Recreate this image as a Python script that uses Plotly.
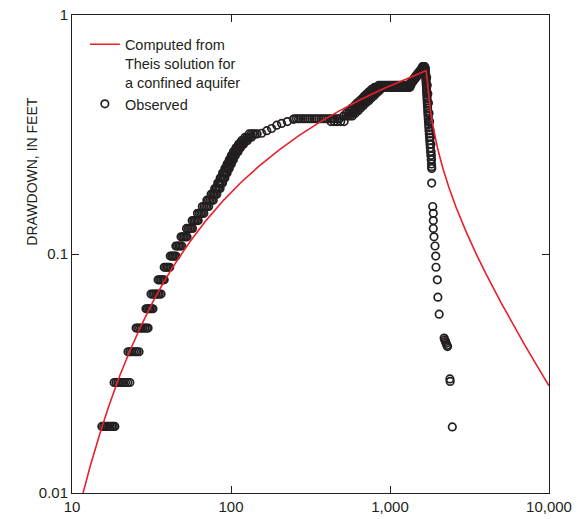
import plotly.graph_objects as go

# ---------------- data ----------------
# Computed (Theis solution) curve
theis_t = [11, 12, 13, 15, 17, 20, 23, 27, 32, 38, 45, 55, 70, 90, 115, 150, 200, 270,
           360, 480, 650, 900, 1200, 1450, 1683, 1690, 1700, 1715, 1735, 1760, 1800,
           1850, 1920, 2000, 2150, 2350, 2600, 3000, 3500, 4000, 5000, 6000, 7000, 8500, 10000]
theis_s = [0.0085, 0.0106, 0.0129, 0.0178, 0.0230, 0.0310, 0.0390, 0.0496, 0.0624, 0.0769,
           0.0922, 0.1123, 0.1386, 0.1681, 0.1986, 0.2332, 0.2722, 0.3141, 0.3553, 0.3971,
           0.4417, 0.4902, 0.5333, 0.5618, 0.5843, 0.5830, 0.5629, 0.5247, 0.4825, 0.4415,
           0.3937, 0.3511, 0.3085, 0.2735, 0.2283, 0.1892, 0.1572, 0.1246, 0.0994, 0.0829,
           0.0625, 0.0501, 0.0419, 0.0336, 0.0281]

# Observed drawdown (time, drawdown)
obs_t = [
    15.4, 15.8, 16.2, 16.6, 17.0, 17.4, 17.8, 18.2, 18.6,
    18.4, 18.9, 19.4, 19.9, 20.5, 21.1, 21.7, 22.4, 23.1,
    22.5, 23.1, 23.7, 24.4, 25.1, 25.7, 26.4,
    25.3, 25.9, 26.6, 27.3, 28.0, 28.7, 29.4, 30.1,
    29.2, 29.8, 30.4, 31.0, 31.6, 32.3,
    31.4, 32.2, 33.0, 33.8, 34.6, 35.4, 36.3,
    34.8, 35.6, 36.4, 37.2, 38.0,
    38.0, 38.8, 39.6, 40.4, 41.2,
    41.5, 42.4, 43.3, 44.2, 45.1,
    45.0, 46.0, 47.0, 48.0, 49.0,
    48.5, 49.6, 50.7, 51.8, 52.9,
    52.5, 53.7, 54.9, 56.1, 57.3,
    57.0, 58.3, 59.6, 60.9, 62.2,
    61.5, 63.0, 64.5, 66.0, 67.5,
    66.0, 67.6, 69.2, 70.8, 72.4,
    70.5, 72.2, 73.9, 75.6, 77.3,
    75.0, 76.6, 78.2, 79.8, 81.4,
    79.0, 80.6, 82.2, 83.8, 85.4,
    82.5, 84.0, 85.5, 87.0, 88.5,
    85.5, 87.0, 88.5, 90.0, 91.5,
    88.5, 90.0, 91.5, 93.0, 94.5,
    91.5, 93.0, 94.5, 96.0, 97.5,
    94.5, 96.0, 97.5, 99.0, 100.5,
    97.5, 99.0, 100.5, 102.0, 103.5,
    100.5, 102.0, 103.5, 105.0, 106.5,
    103.5, 105.3, 107.1, 108.9, 110.7,
    107.5, 109.3, 111.1, 112.9, 114.7,
    111.5, 113.6, 115.7, 117.8, 119.9,
    116.5, 119.0, 121.5, 124.0, 126.5,
    122.5, 125.5, 128.5, 131.5, 134.5,
    130.0, 134.0, 138.0, 142.0, 146.0,
    156, 168, 180, 194, 208, 226, 247,
    250, 258, 266, 275, 284, 293, 303, 313, 323, 334, 345, 357, 369, 381, 394, 407, 421, 435, 450, 465, 480,
    425, 445, 465, 490, 515,
    510, 528, 546, 563, 580,
    530, 550, 569, 587, 605,
    555, 575, 594, 612, 630,
    575, 596, 617, 636, 655,
    600, 620, 641, 660, 680,
    620, 643, 666, 685, 705,
    645, 668, 691, 713, 735,
    670, 693, 716, 738, 760,
    690, 715, 741, 765, 790,
    715, 741, 768, 791, 815,
    740, 767, 794, 819, 845,
    765, 793, 821, 845, 870,
    800, 815, 830, 845, 860, 875, 890, 907, 925, 942, 960, 980, 1000, 1020, 1040, 1060,
    1080, 1100, 1120, 1140, 1160, 1180, 1200, 1222, 1245, 1267, 1290, 1312, 1335,
    850, 875, 900, 925, 950, 975, 1000, 1025, 1050, 1075, 1100, 1125, 1150, 1175, 1200,
    1225, 1250, 1275, 1300, 1325, 1350,
    1340, 1355, 1370, 1370, 1385, 1400, 1400, 1415, 1430, 1430, 1445, 1460, 1460, 1478,
    1495, 1490, 1508, 1525,
    1520, 1540, 1560, 1555, 1578, 1600, 1620, 1640, 1590, 1608, 1625, 1642, 1660, 1600,
    1615, 1630, 1642, 1655,
    1665, 1670, 1672, 1675, 1678, 1680, 1683, 1686, 1689, 1692, 1695, 1698, 1701, 1704,
    1707, 1710, 1713, 1716, 1720, 1724, 1728, 1732, 1736, 1740, 1745, 1750, 1755, 1760,
    1766, 1772, 1778, 1785, 1792, 1800, 1808, 1816, 1824, 1830,
    1700, 1715, 1730, 1745, 1760, 1775, 1790, 1800, 1810, 1815, 1820, 1825,
    1829, 1829, 1856, 1872, 1872, 1872, 1891, 1919, 1939, 1947, 1984, 2000, 2038,
    2190, 2210, 2235, 2255, 2280, 2300,
    2380, 2390, 2465,
]
obs_s = [
    0.019, 0.019, 0.019, 0.019, 0.019, 0.019, 0.019, 0.019, 0.019,
    0.029, 0.029, 0.029, 0.029, 0.029, 0.029, 0.029, 0.029, 0.029,
    0.039, 0.039, 0.039, 0.039, 0.039, 0.039, 0.039,
    0.049, 0.049, 0.049, 0.049, 0.049, 0.049, 0.049, 0.049,
    0.059, 0.059, 0.059, 0.059, 0.059, 0.059,
    0.068, 0.068, 0.068, 0.068, 0.068, 0.068, 0.068,
    0.078, 0.078, 0.078, 0.078, 0.078,
    0.088, 0.088, 0.088, 0.088, 0.088,
    0.098, 0.098, 0.098, 0.098, 0.098,
    0.108, 0.108, 0.108, 0.108, 0.108,
    0.118, 0.118, 0.118, 0.118, 0.118,
    0.128, 0.128, 0.128, 0.128, 0.128,
    0.138, 0.138, 0.138, 0.138, 0.138,
    0.148, 0.148, 0.148, 0.148, 0.148,
    0.158, 0.158, 0.158, 0.158, 0.158,
    0.168, 0.168, 0.168, 0.168, 0.168,
    0.178, 0.178, 0.178, 0.178, 0.178,
    0.188, 0.188, 0.188, 0.188, 0.188,
    0.198, 0.198, 0.198, 0.198, 0.198,
    0.208, 0.208, 0.208, 0.208, 0.208,
    0.218, 0.218, 0.218, 0.218, 0.218,
    0.228, 0.228, 0.228, 0.228, 0.228,
    0.238, 0.238, 0.238, 0.238, 0.238,
    0.248, 0.248, 0.248, 0.248, 0.248,
    0.258, 0.258, 0.258, 0.258, 0.258,
    0.268, 0.268, 0.268, 0.268, 0.268,
    0.278, 0.278, 0.278, 0.278, 0.278,
    0.288, 0.288, 0.288, 0.288, 0.288,
    0.298, 0.298, 0.298, 0.298, 0.298,
    0.308, 0.308, 0.308, 0.308, 0.308,
    0.318, 0.318, 0.318, 0.318, 0.318,
    0.320, 0.328, 0.335, 0.346, 0.352, 0.358, 0.366,
    0.368, 0.368, 0.368, 0.368, 0.368, 0.368, 0.368, 0.368, 0.368, 0.368, 0.368, 0.368, 0.368,
    0.368, 0.368, 0.368, 0.368, 0.368, 0.368, 0.368, 0.368,
    0.358, 0.358, 0.358, 0.358, 0.358,
    0.378, 0.378, 0.378, 0.378, 0.378,
    0.388, 0.388, 0.388, 0.388, 0.388,
    0.398, 0.398, 0.398, 0.398, 0.398,
    0.408, 0.408, 0.408, 0.408, 0.408,
    0.418, 0.418, 0.418, 0.418, 0.418,
    0.428, 0.428, 0.428, 0.428, 0.428,
    0.438, 0.438, 0.438, 0.438, 0.438,
    0.448, 0.448, 0.448, 0.448, 0.448,
    0.458, 0.458, 0.458, 0.458, 0.458,
    0.468, 0.468, 0.468, 0.468, 0.468,
    0.478, 0.478, 0.478, 0.478, 0.478,
    0.488, 0.488, 0.488, 0.488, 0.488,
    0.498, 0.498, 0.498, 0.498, 0.498, 0.498, 0.498, 0.498, 0.498, 0.498, 0.498, 0.498, 0.498,
    0.498, 0.498, 0.498, 0.498, 0.498, 0.498, 0.498, 0.498, 0.498, 0.498, 0.498, 0.498,
    0.498, 0.498, 0.498, 0.498,
    0.508, 0.508, 0.508, 0.508, 0.508, 0.508, 0.508, 0.508, 0.508, 0.508, 0.508, 0.508,
    0.508, 0.508, 0.508, 0.508, 0.508, 0.508, 0.508, 0.508, 0.508,
    0.518, 0.518, 0.518, 0.528, 0.528, 0.528, 0.538, 0.538, 0.538, 0.548, 0.548, 0.548,
    0.558, 0.558, 0.558, 0.568, 0.568, 0.568,
    0.578, 0.578, 0.578, 0.588, 0.588, 0.588, 0.588, 0.588, 0.598, 0.598, 0.598, 0.598,
    0.598, 0.608, 0.608, 0.608, 0.608, 0.608,
    0.598, 0.588, 0.578, 0.568, 0.558, 0.548, 0.538, 0.528, 0.518, 0.508, 0.498, 0.488, 0.478, 0.468,
    0.458, 0.448, 0.438, 0.428, 0.418, 0.408, 0.398, 0.388, 0.378, 0.368, 0.358, 0.348, 0.338, 0.328,
    0.318, 0.308, 0.298, 0.288, 0.278, 0.268, 0.258, 0.248, 0.238, 0.228,
    0.548, 0.508, 0.468, 0.428, 0.388, 0.358, 0.328, 0.308, 0.288, 0.268, 0.258, 0.248,
    0.232, 0.198, 0.158, 0.148, 0.138, 0.128, 0.118, 0.108, 0.098, 0.088, 0.078, 0.066, 0.056,
    0.0445, 0.0437, 0.0430, 0.0423, 0.0415, 0.0410,
    0.0300, 0.0293, 0.0189,
]

x_tickvals = [10, 100, 1000, 10000]
x_ticktext = ["10", "100", "1,000", "10,000"]
y_tickvals = [0.01, 0.1, 1]
y_ticktext = ["0.01", "0.1", "1"]

series_names = ["Computed from<br>Theis solution for<br>a confined aquifer", "Observed"]
y_title = "DRAWDOWN, IN FEET"

# ---------------- styles ----------------
FONT = "Liberation Sans, Arial, Helvetica, sans-serif"
INK = "#231f20"
RED = "#e8202a"

fig = go.Figure()
fig.add_trace(go.Scatter(
    x=obs_t, y=obs_s, mode="markers", name=series_names[1],
    marker=dict(symbol="circle-open", size=7.5, color=INK, line=dict(width=1.7, color=INK)),
))
fig.add_trace(go.Scatter(
    x=theis_t, y=theis_s, mode="lines", name=series_names[0],
    line=dict(color=RED, width=1.6),
))

axis_common = dict(
    type="log", showgrid=False, zeroline=False, showline=True, linecolor=INK, linewidth=1,
    mirror="ticks", ticks="inside", ticklen=7, tickwidth=1, tickcolor=INK, automargin=False,
    ticklabeloverflow="allow",
    tickfont=dict(family=FONT, size=15, color=INK),
)
# plot area at x 72..549, y 15..493 of the 584x519 window
fig.update_layout(
    width=584, height=519,
    margin=dict(l=72, r=35, t=15, b=26),
    paper_bgcolor="white", plot_bgcolor="white",
    font=dict(family=FONT, color=INK),
    xaxis=dict(range=[1, 4], tickvals=x_tickvals, ticktext=x_ticktext, **axis_common),
    yaxis=dict(range=[-2, 0], tickvals=y_tickvals, ticktext=y_ticktext, **axis_common),
    showlegend=True,
    legend=dict(
        x=0.027, y=0.972, xanchor="left", yanchor="top", traceorder="reversed",
        bgcolor="rgba(0,0,0,0)", borderwidth=0, valign="top",
        font=dict(family=FONT, size=14.5, color=INK),
    ),
    annotations=[dict(
        text=y_title, textangle=-90, xref="paper", yref="paper",
        x=-0.084, y=0.672, xanchor="center", yanchor="middle", showarrow=False,
        font=dict(family=FONT, size=14, color=INK),
    )],
)

# remove the browser's default 8px body margin so the figure fills the window
fig.write_html(
    "out.html",
    config={"displayModeBar": False},
    post_script="document.body.style.margin='0';",
)
